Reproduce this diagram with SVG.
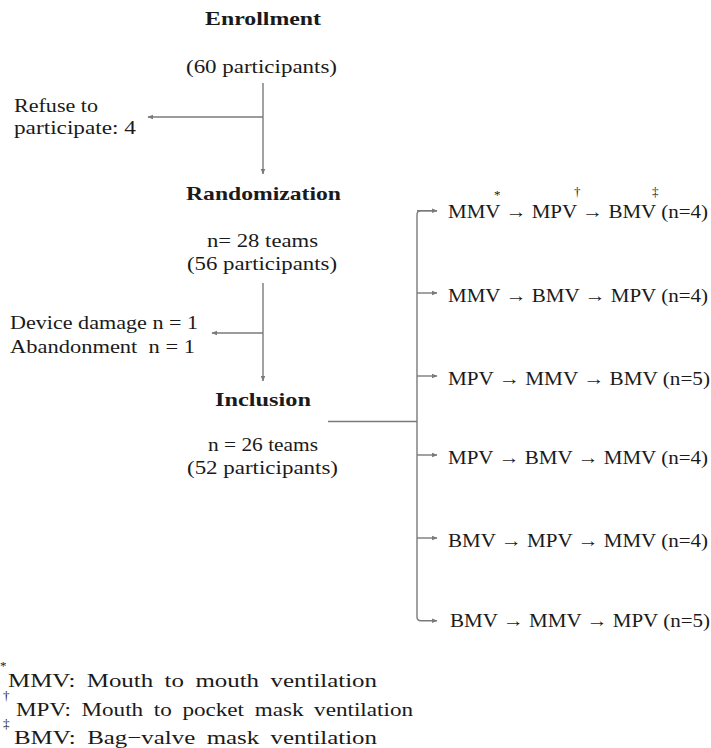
<svg xmlns="http://www.w3.org/2000/svg" width="711" height="748" viewBox="0 0 711 748">
<style>
text{font-family:'Liberation Serif','Times New Roman',serif;fill:#1a1a1a;font-size:19px}
.b{font-weight:bold}
.fn{font-size:19px;word-spacing:4px}
.sup{font-size:13px}
.ln{fill:none;stroke:#7a7a7a;stroke-width:1.4}
</style>
<defs>
<marker id="ah" viewBox="0 0 10 10" refX="9" refY="5" markerWidth="6" markerHeight="6" markerUnits="userSpaceOnUse" orient="auto">
<path d="M0,1 L10,5 L0,9 Z" fill="#7a7a7a"/>
</marker>
</defs>
<rect width="711" height="748" fill="#ffffff"/>
<g id="connectors">
<path class="ln" d="M263,83 V174" marker-end="url(#ah)"/>
<path class="ln" d="M263,117 H148" marker-end="url(#ah)"/>
<path class="ln" d="M263,283 V381" marker-end="url(#ah)"/>
<path class="ln" d="M263,333 H212" marker-end="url(#ah)"/>
<path class="ln" d="M328,421.5 H417"/>
<path class="ln" d="M437,210.7 H421 Q417,210.7 417,214.7 V616.7 Q417,620.7 421,620.7 H437" marker-end="url(#ah)"/>
<path class="ln" d="M417,210.7 H437" marker-end="url(#ah)"/>
<path class="ln" d="M417,293 H437" marker-end="url(#ah)"/>
<path class="ln" d="M417,376 H437" marker-end="url(#ah)"/>
<path class="ln" d="M417,455 H437" marker-end="url(#ah)"/>
<path class="ln" d="M417,538 H437" marker-end="url(#ah)"/>
</g>
<g id="enrollment">
<text class="b" x="205" y="25" textLength="116" lengthAdjust="spacingAndGlyphs">Enrollment</text>
<text x="186" y="73" textLength="151" lengthAdjust="spacingAndGlyphs">(60 participants)</text>
</g>
<g id="refuse">
<text x="14" y="112" textLength="84" lengthAdjust="spacingAndGlyphs">Refuse to</text>
<text x="14" y="134" textLength="122" lengthAdjust="spacingAndGlyphs">participate: 4</text>
</g>
<g id="randomization">
<text class="b" x="186" y="200" textLength="155" lengthAdjust="spacingAndGlyphs">Randomization</text>
<text x="207" y="247" textLength="111" lengthAdjust="spacingAndGlyphs">n= 28 teams</text>
<text x="187" y="270" textLength="150" lengthAdjust="spacingAndGlyphs">(56 participants)</text>
</g>
<g id="excluded">
<text x="10" y="329" textLength="188" lengthAdjust="spacingAndGlyphs">Device damage n = 1</text>
<text x="10" y="353" textLength="185" lengthAdjust="spacingAndGlyphs" xml:space="preserve">Abandonment  n = 1</text>
</g>
<g id="inclusion">
<text class="b" x="215" y="406" textLength="96" lengthAdjust="spacingAndGlyphs">Inclusion</text>
<text x="208" y="451" textLength="110" lengthAdjust="spacingAndGlyphs">n = 26 teams</text>
<text x="187" y="474" textLength="151" lengthAdjust="spacingAndGlyphs">(52 participants)</text>
</g>
<g id="group1">
<text x="448" y="218" textLength="260" lengthAdjust="spacingAndGlyphs">MMV → MPV → BMV (n=4)</text>
<text class="sup" x="494" y="199">*</text>
<text class="sup" x="574" y="196">†</text>
<text class="sup" x="652" y="196">‡</text>
</g>
<g id="group2">
<text x="448" y="302" textLength="260" lengthAdjust="spacingAndGlyphs">MMV → BMV → MPV (n=4)</text>
</g>
<g id="group3">
<text x="448" y="385" textLength="262" lengthAdjust="spacingAndGlyphs">MPV → MMV → BMV (n=5)</text>
</g>
<g id="group4">
<text x="448" y="464" textLength="260" lengthAdjust="spacingAndGlyphs">MPV → BMV → MMV (n=4)</text>
</g>
<g id="group5">
<text x="448" y="547" textLength="260" lengthAdjust="spacingAndGlyphs">BMV → MPV → MMV (n=4)</text>
</g>
<g id="group6">
<text x="450" y="627" textLength="260" lengthAdjust="spacingAndGlyphs">BMV → MMV → MPV (n=5)</text>
</g>
<g id="footnotes">
<text class="sup" x="0" y="670">*</text>
<text class="fn" x="8" y="687" textLength="369" lengthAdjust="spacingAndGlyphs">MMV: Mouth to mouth ventilation</text>
<text class="sup" x="3" y="700">†</text>
<text class="fn" x="16" y="716" textLength="397" lengthAdjust="spacingAndGlyphs">MPV: Mouth to pocket mask ventilation</text>
<text class="sup" x="3" y="728">‡</text>
<text class="fn" x="14" y="744" textLength="363" lengthAdjust="spacingAndGlyphs">BMV: Bag−valve mask ventilation</text>
</g>
</svg>
